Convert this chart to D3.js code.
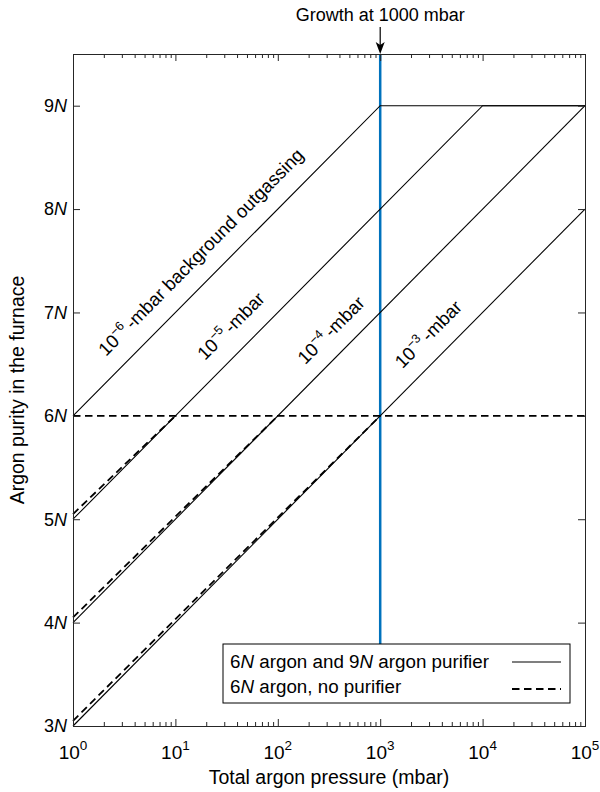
<!DOCTYPE html>
<html>
<head>
<meta charset="utf-8">
<script src="https://cdn.jsdelivr.net/npm/d3@7"></script>
<style>
  body { margin: 0; background: #fff; }
  text { font-family: "Liberation Sans", Arial, sans-serif; fill: #000; }
</style>
</head>
<body>
<div id="chart"></div>
<script>
// ---- values ----
var outgassingExp = [-6, -5, -4, -3];           // background outgassing, 10^x mbar
var labelTail = ["-mbar background outgassing", "-mbar", "-mbar", "-mbar"];
// label start points (pressure, purity in N)
var labelAt = [[2.1, 6.57], [19.5, 6.53], [185, 6.49], [1650, 6.45]];

// 6N argon + 9N purifier (solid)
var purifierLines = [
  [[1, 6], [1e3, 9], [1e5, 9]],
  [[1, 5], [1e4, 9], [1e5, 9]],
  [[1, 4], [1e5, 9]],
  [[1, 3], [1e5, 8]]
];
// 6N argon, no purifier (dashed)
var noPurifierLines = [
  [[1, 6], [1e5, 6]],
  [[1, 5.05], [10, 6]],
  [[1, 4.05], [100, 6]],
  [[1, 3.05], [1e3, 6]]
];

var xTicks = [1, 10, 100, 1e3, 1e4, 1e5];
var yTicks = [3, 4, 5, 6, 7, 8, 9];
var growthP = 1000;
var legendLabels = [["6", "N", " argon and 9", "N", " argon purifier"], ["6", "N", " argon, no purifier"]];

// ---- layout ----
var W = 600, H = 792;
var margin = {top: 54, right: 15, bottom: 66, left: 73};
var width = W - margin.left - margin.right;
var height = H - margin.top - margin.bottom;
var axisColor = "#262626";

var svg = d3.select("#chart").append("svg")
  .attr("width", W).attr("height", H);
var g = svg.append("g")
  .attr("transform", "translate(" + margin.left + "," + margin.top + ")");

var x = d3.scaleLog().domain([1, 1e5]).range([0, width]);
var y = d3.scaleLinear().domain([3, 9.5]).range([height, 0]);

var minorTicks = [];
for (var d = 1; d < 1e5; d *= 10) {
  for (var k = 2; k <= 9; k++) minorTicks.push(d * k);
}

// legend box geometry (pixels inside plot)
var leg = {x: 150, y: 590, w: 347, h: 59};

// blue growth line (stops at legend)
g.append("line")
  .attr("x1", x(growthP)).attr("x2", x(growthP))
  .attr("y1", 0).attr("y2", leg.y)
  .attr("stroke", "#0072BD").attr("stroke-width", 2.5);

var line = d3.line().x(function(d) { return x(d[0]); }).y(function(d) { return y(d[1]); });

g.selectAll(".solid").data(purifierLines).enter().append("path")
  .attr("class", "solid")
  .attr("d", line)
  .attr("fill", "none").attr("stroke", "#000").attr("stroke-width", 1.1);

g.selectAll(".dashed").data(noPurifierLines).enter().append("path")
  .attr("class", "dashed")
  .attr("d", line)
  .attr("fill", "none").attr("stroke", "#000").attr("stroke-width", 1.8)
  .attr("stroke-dasharray", "7.5,4.5");

// line labels, rotated along the lines
var angle = Math.atan2(y(4) - y(3), x(10) - x(1)) * 180 / Math.PI;
outgassingExp.forEach(function(e, i) {
  var px = x(labelAt[i][0]), py = y(labelAt[i][1]);
  var t = g.append("text")
    .attr("transform", "translate(" + px + "," + py + ") rotate(" + angle + ")")
    .attr("font-size", 18.5);
  t.append("tspan").text("10");
  t.append("tspan").attr("dy", -8).attr("font-size", 12.5).text("\u2212" + (-e));
  t.append("tspan").attr("dy", 8).attr("dx", 3).text(labelTail[i]);
});

// axes with inward ticks (box)
g.append("g").attr("transform", "translate(0," + height + ")")
  .call(d3.axisBottom(x).tickValues(xTicks).tickSize(-7).tickFormat(""));
g.append("g").attr("transform", "translate(0," + height + ")")
  .call(d3.axisBottom(x).tickValues(minorTicks).tickSize(-4).tickFormat(""));
g.append("g")
  .call(d3.axisTop(x).tickValues(xTicks).tickSize(-7).tickFormat(""));
g.append("g")
  .call(d3.axisTop(x).tickValues(minorTicks).tickSize(-4).tickFormat(""));
g.append("g")
  .call(d3.axisLeft(y).tickValues(yTicks).tickSize(-7).tickFormat(""));
g.append("g").attr("transform", "translate(" + width + ",0)")
  .call(d3.axisRight(y).tickValues(yTicks).tickSize(-7).tickFormat(""));

g.selectAll(".domain").attr("stroke", axisColor).attr("stroke-width", 1);
g.selectAll(".tick line").attr("stroke", axisColor).attr("stroke-width", 1);

// x tick labels 10^n
xTicks.forEach(function(v) {
  var t = g.append("text")
    .attr("x", x(v)).attr("y", height + 33)
    .attr("text-anchor", "middle").attr("font-size", 19);
  t.append("tspan").text("10");
  t.append("tspan").attr("dy", -9).attr("font-size", 13.5).text(Math.round(Math.log10(v)));
});

// y tick labels nN
yTicks.forEach(function(v) {
  var t = g.append("text")
    .attr("x", -6).attr("y", y(v)).attr("dy", "0.35em")
    .attr("text-anchor", "end").attr("font-size", 18);
  t.append("tspan").text(v);
  t.append("tspan").attr("font-style", "italic").text("N");
});

// axis titles
svg.append("text")
  .attr("x", margin.left + width / 2).attr("y", 784)
  .attr("text-anchor", "middle").attr("font-size", 19.5)
  .text("Total argon pressure (mbar)");
svg.append("text")
  .attr("transform", "translate(24," + (margin.top + height / 2) + ") rotate(-90)")
  .attr("text-anchor", "middle").attr("font-size", 19.5)
  .text("Argon purity in the furnace");

// growth annotation with arrow
var gx = margin.left + x(growthP);
svg.append("text")
  .attr("x", gx).attr("y", 21)
  .attr("text-anchor", "middle").attr("font-size", 18)
  .text("Growth at " + growthP + " mbar");
svg.append("line")
  .attr("x1", gx).attr("x2", gx).attr("y1", 27).attr("y2", margin.top - 6)
  .attr("stroke", "#000").attr("stroke-width", 1.2);
svg.append("path")
  .attr("d", "M" + (gx - 4.5) + "," + (margin.top - 12) + "L" + gx + "," + margin.top +
             "L" + (gx + 4.5) + "," + (margin.top - 12) + "L" + gx + "," + (margin.top - 9) + "Z")
  .attr("fill", "#000");

// legend
var lg = g.append("g").attr("transform", "translate(" + leg.x + "," + leg.y + ")");
lg.append("rect").attr("width", leg.w).attr("height", leg.h)
  .attr("fill", "#fff").attr("stroke", "#000").attr("stroke-width", 1);
legendLabels.forEach(function(parts, i) {
  var t = lg.append("text").attr("x", 7).attr("y", 24 + i * 25).attr("font-size", 18.8);
  parts.forEach(function(p) {
    var s = t.append("tspan").text(p);
    if (p === "N") s.attr("font-style", "italic");
  });
  lg.append("line")
    .attr("x1", 289).attr("x2", 338)
    .attr("y1", 18 + i * 27).attr("y2", 18 + i * 27)
    .attr("stroke", "#000")
    .attr("stroke-width", i === 0 ? 1.1 : 1.8)
    .attr("stroke-dasharray", i === 0 ? null : "7.5,4.5");
});
</script>
</body>
</html>
